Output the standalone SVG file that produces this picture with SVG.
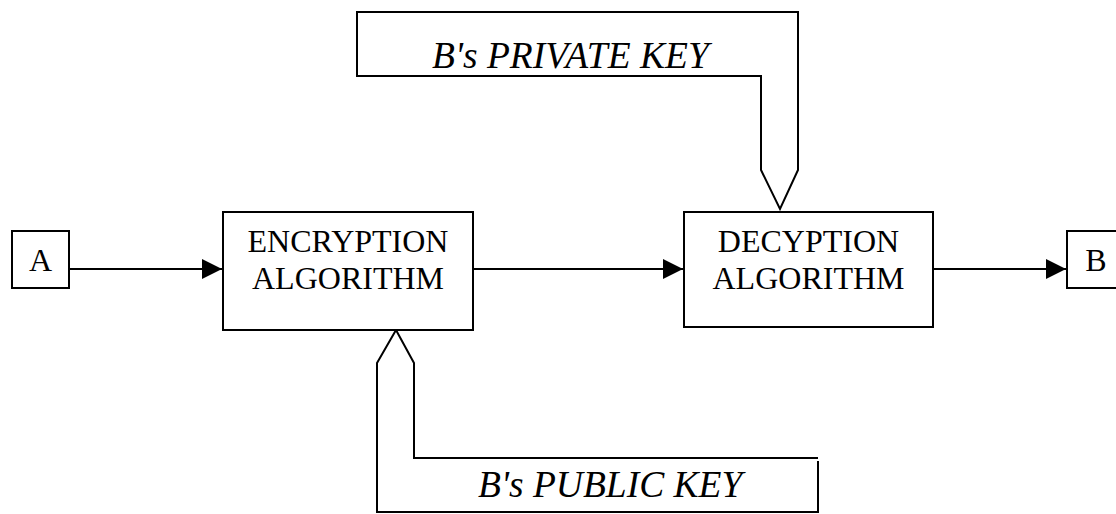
<svg xmlns="http://www.w3.org/2000/svg" width="1116" height="514" viewBox="0 0 1116 514">
  <style>
    .box { fill: #fff; stroke: #000; stroke-width: 2; }
    .key { fill: none; stroke: #000; stroke-width: 2; stroke-linejoin: miter; }
    .lbl { font-family: "Liberation Serif", "Times New Roman", serif; font-size: 32px; fill: #000; }
    .keylbl { font-family: "Liberation Serif", "Times New Roman", serif; font-size: 37.5px; font-style: italic; fill: #000; }
    .wire { stroke: #000; stroke-width: 2; fill: none; }
  </style>
  <defs>
    <marker id="arrow" viewBox="0 0 20 20" refX="20" refY="10" markerWidth="20" markerHeight="20" markerUnits="userSpaceOnUse" orient="auto">
      <path d="M0,0 L20,10 L0,20 Z" fill="#000"/>
    </marker>
  </defs>

  <rect width="1116" height="514" fill="#fff"/>

  <!-- connectors -->
  <g id="connectors">
    <line class="wire" x1="69" y1="269" x2="222" y2="269" marker-end="url(#arrow)"/>
    <line class="wire" x1="473" y1="269" x2="683" y2="269" stroke-width="2.5" marker-end="url(#arrow)"/>
    <line class="wire" x1="933" y1="269" x2="1066" y2="269" marker-end="url(#arrow)"/>
  </g>

  <!-- sender -->
  <g id="node-a">
    <rect class="box" x="12" y="231" width="57" height="57"/>
    <text class="lbl" x="40.5" y="271" text-anchor="middle">A</text>
  </g>

  <!-- encryption stage -->
  <g id="node-encrypt">
    <rect class="box" x="223" y="212" width="250" height="118"/>
    <text class="lbl" x="348" y="252" text-anchor="middle">ENCRYPTION</text>
    <text class="lbl" x="348" y="289" text-anchor="middle">ALGORITHM</text>
  </g>

  <!-- decryption stage -->
  <g id="node-decrypt">
    <rect class="box" x="684" y="212" width="249" height="115"/>
    <text class="lbl" x="808.5" y="252" text-anchor="middle">DECYPTION</text>
    <text class="lbl" x="808.5" y="289" text-anchor="middle">ALGORITHM</text>
  </g>

  <!-- receiver -->
  <g id="node-b">
    <rect class="box" x="1067" y="231" width="57" height="57"/>
    <text class="lbl" x="1096" y="271" text-anchor="middle">B</text>
  </g>

  <!-- private key feed into decryption -->
  <g id="node-private-key">
    <path class="key" d="M357,77 L357,12 L798,12 L798,170 L780,209 L761,170 L761,76 L357,76"/>
    <text class="keylbl" x="432" y="68">B's PRIVATE KEY</text>
  </g>

  <!-- public key feed into encryption -->
  <g id="node-public-key">
    <path class="key" d="M396,330 L414,363 L414,458 L818,458 M818,461 L818,512 L377,512 L377,363 L396,330"/>
    <text class="keylbl" x="478" y="497">B's PUBLIC KEY</text>
  </g>
</svg>
